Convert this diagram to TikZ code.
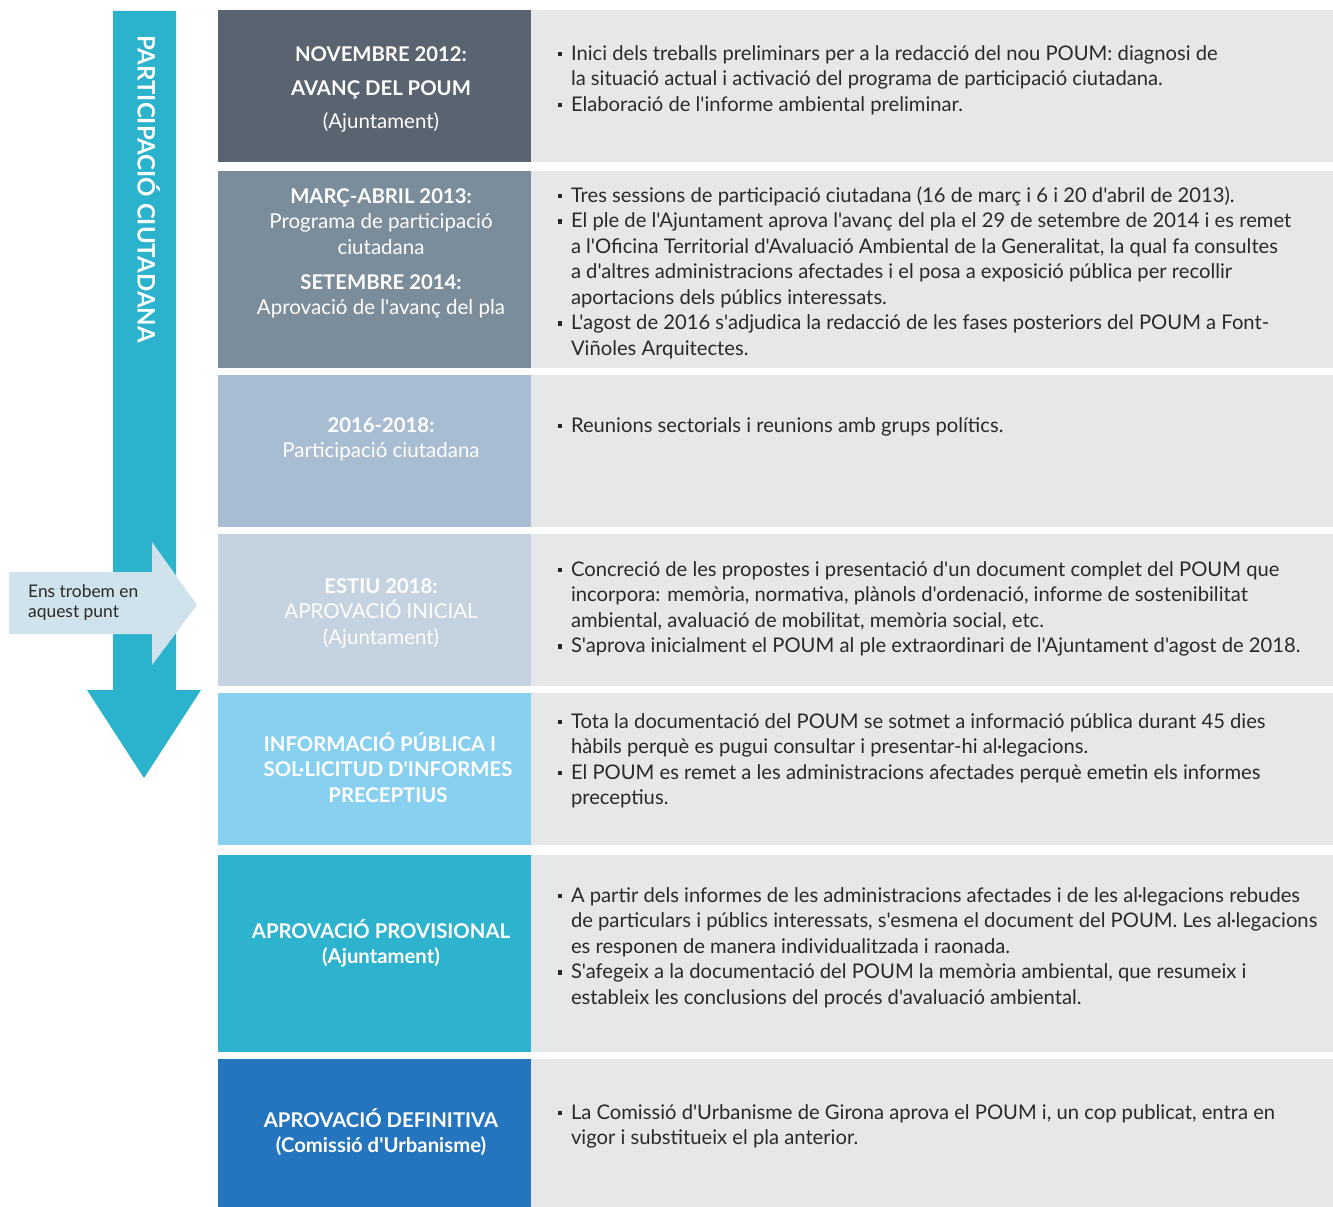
\documentclass[tikz,border=0pt]{standalone}
\usepackage{fontspec}
\setmainfont{Lato}[Ligatures=TeXOff]
\definecolor{cA}{HTML}{5A6470}
\definecolor{cB}{HTML}{7B8C9A}
\definecolor{cC}{HTML}{A9BDD2}
\definecolor{cD}{HTML}{C5D3E0}
\definecolor{cE}{HTML}{88D0F0}
\definecolor{cF}{HTML}{2DB3CE}
\definecolor{cG}{HTML}{2474BE}
\definecolor{rbg}{HTML}{E6E7E8}
\definecolor{arr}{HTML}{2BB3CD}
\definecolor{here}{HTML}{D0E2EC}
\definecolor{txt}{HTML}{2A2A2A}
\newcommand\topstrut{\rule{0pt}{22pt}}
\newcommand\bul{\llap{\textcolor{txt}{\rule[4pt]{4.5pt}{4.5pt}}\hspace{9pt}}}
\newcommand\bodyfont{\fontsize{20.2}{25.5}\selectfont}
\newcommand\hb{\fontsize{20.3}{25.5}\selectfont\bfseries}
\newcommand\hr{\fontsize{20.5}{25.5}\selectfont}
\tikzset{
  rtext/.style={anchor=north west, inner sep=0pt, outer sep=0pt, align=left, text=txt, font=\bodyfont},
  ltext/.style={anchor=north, inner sep=0pt, outer sep=0pt, align=center, text=white, font=\hr},
}
\begin{document}
\begin{tikzpicture}[x=1pt,y=-1pt]
\useasboundingbox (0,0) rectangle (1333,1207);
% main arrow
\fill[arr] (113,11) -- (176,11) -- (176,690) -- (201,690) -- (144,778) -- (87,690) -- (113,690) -- cycle;
\node[rotate=-90, anchor=base west, inner sep=0pt, text=white, font=\fontsize{24}{26}\selectfont\bfseries] (vt) at (137.5,35) {PARTICIPACIÓ CIUTADANA};
% "here" arrow
\fill[here] (9,572) -- (152,572) -- (152,542) -- (197,605) -- (152,665) -- (152,634) -- (9,634) -- cycle;
\node[anchor=north west, inner sep=0pt, align=left, text=txt, font=\fontsize{17.4}{20}\selectfont] (here) at (28,575) {\rule{0pt}{22pt}Ens trobem en\\aquest punt};
% left cells
\fill[cA] (218,10) rectangle (531,162);
\fill[cB] (218,171) rectangle (531,368);
\fill[cC] (218,375) rectangle (531,527);
\fill[cD] (218,534) rectangle (531,686);
\fill[cE] (218,693) rectangle (531,845);
\fill[cF] (218,855) rectangle (531,1052);
\fill[cG] (218,1059) rectangle (531,1207);
% right cells
\fill[rbg] (531,10) rectangle (1333,162);
\fill[rbg] (531,171) rectangle (1333,368);
\fill[rbg] (531,375) rectangle (1333,527);
\fill[rbg] (531,534) rectangle (1333,686);
\fill[rbg] (531,693) rectangle (1333,845);
\fill[rbg] (531,855) rectangle (1333,1052);
\fill[rbg] (531,1059) rectangle (1333,1207);
% left texts
\node[ltext] (l1) at (381,39) {\hb\topstrut NOVEMBRE 2012:\\[8.5pt]\hb AVANÇ DEL POUM\\[8pt]\hr (Ajuntament)};
\node[ltext] (l2) at (381,181) {\hb\topstrut MARÇ-ABRIL 2013:\\\hr Programa de participació\\\hr ciutadana\\[9.5pt]\hb SETEMBRE 2014:\\\hr Aprovació de l'avanç del pla};
\node[ltext] (l3) at (381,410) {\hb\topstrut 2016-2018:\\\hr Participació ciutadana};
\node[ltext] (l4) at (381,571) {\hb\topstrut ESTIU 2018:\\\hr APROVACIÓ INICIAL\\\hr (Ajuntament)};
\node[ltext] (l5) at (388,729) {\hb\topstrut INFORMACIÓ PÚBLICA I\hspace*{16pt}\\\hb SOL·LICITUD D'INFORMES\\\hb PRECEPTIUS};
\node[ltext] (l6) at (381,916) {\hb\topstrut APROVACIÓ PROVISIONAL\\\hb (Ajuntament)};
\node[ltext] (l7) at (381,1105) {\hb\topstrut APROVACIÓ DEFINITIVA\\\hb (Comissió d'Urbanisme)};
% right texts
\node[rtext] (r1) at (571,38) {\bul\topstrut Inici dels treballs preliminars per a la redacció del nou POUM: diagnosi de\\
la situació actual i activació del programa de participació ciutadana.\\
\bul Elaboració de l'informe ambiental preliminar.};
\node[rtext] (r2) at (571,180) {\bul\topstrut Tres sessions de participació ciutadana (16 de març i 6 i 20 d'abril de 2013).\\
\bul El ple de l'Ajuntament aprova l'avanç del pla el 29 de setembre de 2014 i es remet\\
a l'Oficina Territorial d'Avaluació Ambiental de la Generalitat, la qual fa consultes\\
a d'altres administracions afectades i el posa a exposició pública per recollir\\
aportacions dels públics interessats.\\
\bul L'agost de 2016 s'adjudica la redacció de les fases posteriors del POUM a Font-\\
Viñoles Arquitectes.};
\node[rtext] (r3) at (571,410) {\bul\topstrut Reunions sectorials i reunions amb grups polítics.};
\node[rtext] (r4) at (571,554) {\bul\topstrut Concreció de les propostes i presentació d'un document complet del POUM que\\
incorpora: memòria, normativa, plànols d'ordenació, informe de sostenibilitat\\
ambiental, avaluació de mobilitat, memòria social, etc.\\
\bul S'aprova inicialment el POUM al ple extraordinari de l'Ajuntament d'agost de 2018.};
\node[rtext] (r5) at (571,706) {\bul\topstrut Tota la documentació del POUM se sotmet a informació pública durant 45 dies\\
hàbils perquè es pugui consultar i presentar-hi al·legacions.\\
\bul El POUM es remet a les administracions afectades perquè emetin els informes\\
preceptius.};
\node[rtext] (r6) at (571,880) {\bul\topstrut A partir dels informes de les administracions afectades i de les al·legacions rebudes\\
de particulars i públics interessats, s'esmena el document del POUM. Les al·legacions\\
es responen de manera individualitzada i raonada.\\
\bul S'afegeix a la documentació del POUM la memòria ambiental, que resumeix i\\
estableix les conclusions del procés d'avaluació ambiental.};
\node[rtext] (r7) at (571,1097) {\bul\topstrut La Comissió d'Urbanisme de Girona aprova el POUM i, un cop publicat, entra en\\
vigor i substitueix el pla anterior.};
\end{tikzpicture}
\end{document}
